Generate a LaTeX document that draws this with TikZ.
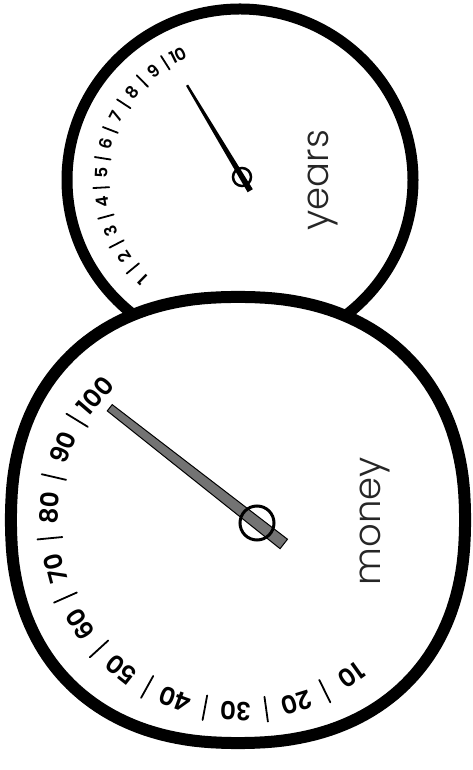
\documentclass[tikz,border=0pt]{standalone}
\usepackage{fontspec}
\newfontfamily\wordfont{Poppins Light}
\newfontfamily\digfont{Poppins SemiBold}
\usetikzlibrary{calc}
\begin{document}
\begin{tikzpicture}[x=1pt,y=1pt,
  smalllab/.style={font=\digfont\fontsize{17}{17}\selectfont, inner sep=0pt},
  biglab/.style={font=\digfont\fontsize{25}{25}\selectfont, inner sep=0pt},
  sepbar/.style={line width=1.8pt, line cap=round},
  word/.style={font=\wordfont\fontsize{37}{37}\selectfont, rotate=90, anchor=base, inner sep=0pt, text=black!85},
]
\useasboundingbox (0,0) rectangle (473,770);
\fill[white] (0,0) rectangle (473,770);
% top dial (years)
\draw[line width=11pt, fill=white] (240,590) ellipse [x radius=173, y radius=171];
% big dial (money)
\draw[line width=12pt, fill=white] plot[domain=1:361, samples=181, variable=\t]
  ({238+227*sign(cos(\t))*abs(cos(\t))^0.88}, {250+223*sign(sin(\t))*abs(sin(\t))^0.88}) -- cycle;

% small dial labels
\foreach \k in {1,...,10} {
  \pgfmathsetmacro\ang{225.6-(\k-1)*12.13}
  \pgfmathsetmacro\rot{\ang-90}
  \node[smalllab, rotate=\rot] (s\k) at ($(240,590)+(\ang:139)$) {\k};
}
\foreach \k in {1,...,9} {
  \pgfmathsetmacro\ang{225.6-(\k-0.5)*12.13}
  \draw[sepbar] ($(240,590)+(\ang:131)$) -- ($(240,590)+(\ang:147)$);
}
% big dial labels
\foreach \k in {1,...,10} {
  \pgfmathsetmacro\ang{305.6-(\k-1)*18.48}
  \pgfmathsetmacro\rot{\ang-90}
  \pgfmathtruncatemacro\v{10*\k}
  \node[biglab, rotate=\rot] (b\k) at ($(240,250)+(\ang:191)$) {\v};
}
\foreach \k in {1,...,9} {
  \pgfmathsetmacro\ang{305.6-(\k-0.5)*18.48}
  \draw[sepbar] ($(240,250)+(\ang:178.5)$) -- ($(240,250)+(\ang:203.5)$);
}

% big needle
\begin{scope}[shift={(257,247)}, rotate=141.96]
  \draw[fill=black!55, line width=1pt] (-34,-6) -- (187,-4) -- (187,4) -- (-34,6) -- cycle;
\end{scope}
\draw[line width=3pt] (257,247) circle (17);
% small needle
\begin{scope}[shift={(242,593)}, rotate=120.9]
  \fill (-16,-3) -- (107,-1.2) -- (107,1.2) -- (-16,3) -- cycle;
\end{scope}
\draw[line width=2.5pt] (242,593) circle (9);

% words
\node[word] (years) at (328,590) {years};
\node[word] (money) at (380,249) {money};
\end{tikzpicture}
\end{document}
